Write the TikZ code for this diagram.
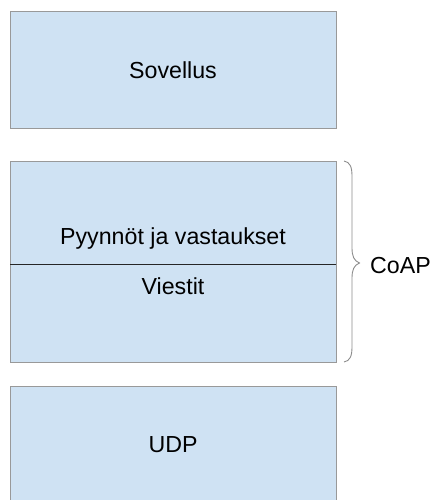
\documentclass[tikz,border=0pt]{standalone}
\usepackage{fontspec}
\setmainfont{Liberation Sans}
\begin{document}
\begin{tikzpicture}[x=1pt,y=-1pt,
  layer/.style={draw=black!40, line width=0.9pt, fill=layerblue, inner sep=0pt,
    minimum width=326pt},
  label/.style={font=\fontsize{23.2pt}{28pt}\selectfont, anchor=base, inner sep=0pt},
  bracecol/.style={draw=black!45, line width=0.9pt}]
\definecolor{layerblue}{HTML}{CFE2F3}
\useasboundingbox (0,0) rectangle (437,500);
\clip (0,0) rectangle (437,500);

% application layer
\node[layer, minimum height=117pt] (app) at (173,69.5) {};
\node[label] (appt) at (173,78.3) {Sovellus};

% CoAP: requests/responses over messages
\node[layer, minimum height=201pt] (coap) at (173,261.5) {};
\coordinate (divl) at (10,264);
\coordinate (divr) at (336,264);
\draw[black!85, line width=0.9pt] (divl) -- (divr);
\node[label] (req) at (173,244.3) {Pyynnöt ja vastaukset};
\node[label] (msg) at (173,294.3) {Viestit};

% transport layer
\node[layer, minimum height=140pt] (udp) at (173,456) {};
\node[label] (udpt) at (173,452.3) {UDP};

% brace grouping the CoAP sublayers
\coordinate (bt) at (344,161);
\coordinate (bm) at (359.5,263);
\coordinate (bb) at (344,362);
\draw[bracecol] (bt) .. controls (350,162) and (352,167) .. (352,176)
  -- (352,248) .. controls (352,256) and (354,261) .. (bm)
  .. controls (354,265) and (352,270) .. (352,278)
  -- (352,347) .. controls (352,356) and (350,361) .. (bb);
\node[label, anchor=base west] (coapt) at (370,273.3) {CoAP};
\end{tikzpicture}
\end{document}
